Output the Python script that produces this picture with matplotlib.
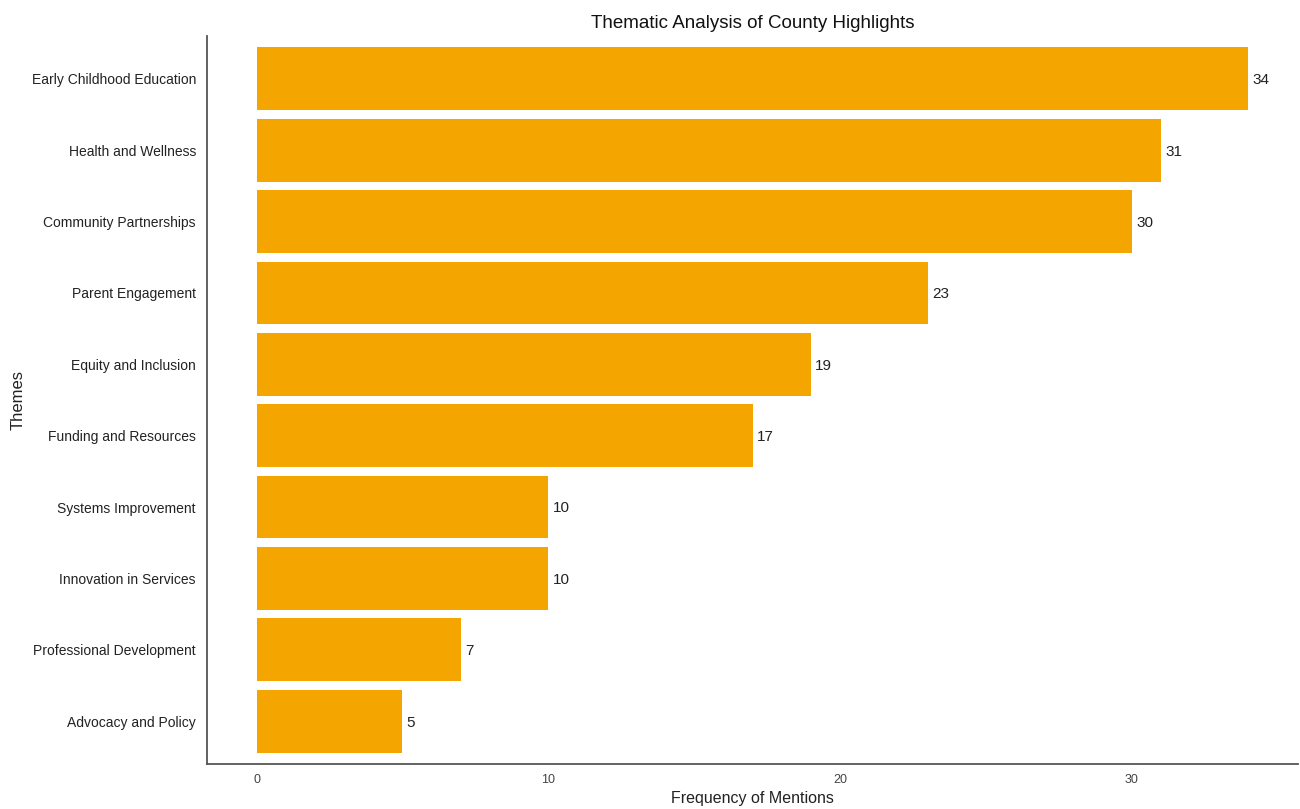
import matplotlib.pyplot as plt

plt.rcParams['font.family'] = ['Liberation Sans', 'DejaVu Sans']

# data
themes = ["Early Childhood Education", "Health and Wellness", "Community Partnerships",
          "Parent Engagement", "Equity and Inclusion", "Funding and Resources",
          "Systems Improvement", "Innovation in Services", "Professional Development",
          "Advocacy and Policy"]
mentions = [34, 31, 30, 23, 19, 17, 10, 10, 7, 5]
x_ticks = [0, 10, 20, 30]

bar_color = "#F5A500"

fig = plt.figure(figsize=(13, 8.09), dpi=100)
ax = fig.add_axes([207 / 1300, 1 - 764 / 809, (1298 - 207) / 1300, (764 - 36) / 809])

# top category at the top
pos = list(range(len(themes)))[::-1]
ax.barh(pos, mentions, height=0.88, color=bar_color)

for p, v in zip(pos, mentions):
    ax.text(v + 0.15, p - 0.02, str(v), va="center", ha="left", fontsize=11, color="#222222")

ax.set_xlim(-1.7, 35.7)
ax.set_ylim(-0.6, len(themes) - 0.4)
ax.set_yticks(pos)
ax.set_yticklabels(themes, fontsize=10, color="#222222")
ax.set_xticks(x_ticks)
ax.set_xticklabels([str(t) for t in x_ticks], fontsize=9, color="#444444")
ax.tick_params(length=0, pad=8)
ax.tick_params(axis="x", pad=7)

for s in ["top", "right"]:
    ax.spines[s].set_visible(False)
for s in ["left", "bottom"]:
    ax.spines[s].set_color("#555555")
    ax.spines[s].set_linewidth(1.3)

ax.set_xlabel("Frequency of Mentions", fontsize=11.5, color="#222222", labelpad=4)
ax.set_ylabel("Themes", fontsize=12, color="#222222", labelpad=4)
ax.set_title("Thematic Analysis of County Highlights", fontsize=13.5, color="#111111", pad=6)

fig.savefig("out.png", dpi=100)
